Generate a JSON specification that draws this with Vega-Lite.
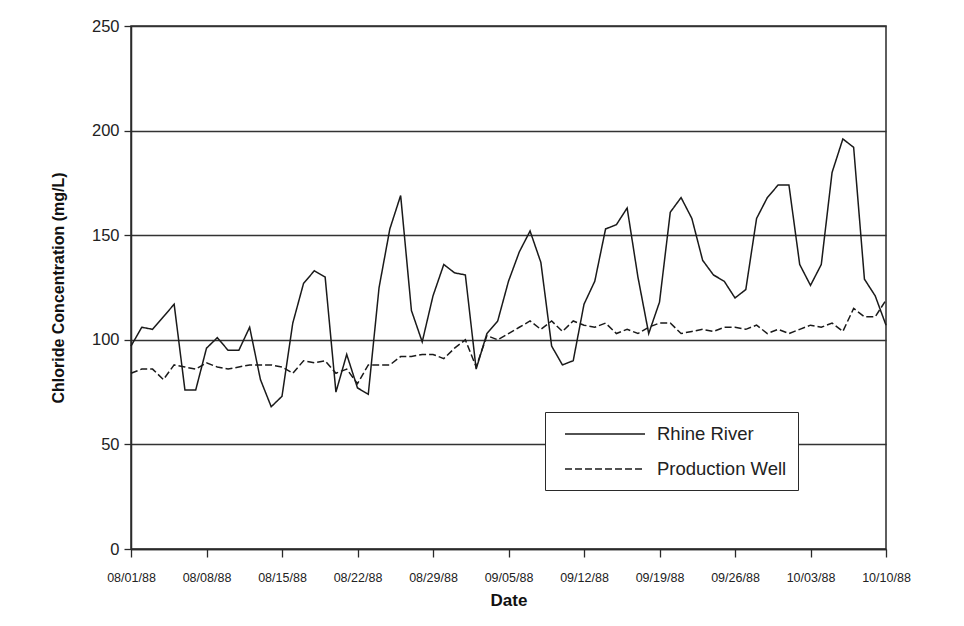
{
  "$schema": "https://vega.github.io/schema/vega-lite/v6.json",
  "width": 755,
  "height": 523,
  "autosize": "none",
  "padding": {"left": 131, "top": 26, "right": 78, "bottom": 77},
  "background": "white",
  "config": {
    "font": "Liberation Sans",
    "view": {"stroke": "#2a2a2a", "strokeWidth": 1.5},
    "axis": {"labelColor": "#222", "titleColor": "#111", "domainColor": "#2a2a2a", "tickColor": "#2a2a2a", "domainWidth": 1.5, "tickWidth": 1.3}
  },
  "data": {"values": [
    {"date":"1988-08-01","series":"Rhine River","value":97},{"date":"1988-08-02","series":"Rhine River","value":106},{"date":"1988-08-03","series":"Rhine River","value":105},{"date":"1988-08-04","series":"Rhine River","value":111},{"date":"1988-08-05","series":"Rhine River","value":117},{"date":"1988-08-06","series":"Rhine River","value":76},{"date":"1988-08-07","series":"Rhine River","value":76},{"date":"1988-08-08","series":"Rhine River","value":96},{"date":"1988-08-09","series":"Rhine River","value":101},{"date":"1988-08-10","series":"Rhine River","value":95},{"date":"1988-08-11","series":"Rhine River","value":95},{"date":"1988-08-12","series":"Rhine River","value":106},{"date":"1988-08-13","series":"Rhine River","value":81},{"date":"1988-08-14","series":"Rhine River","value":68},{"date":"1988-08-15","series":"Rhine River","value":73},{"date":"1988-08-16","series":"Rhine River","value":108},{"date":"1988-08-17","series":"Rhine River","value":127},{"date":"1988-08-18","series":"Rhine River","value":133},{"date":"1988-08-19","series":"Rhine River","value":130},{"date":"1988-08-20","series":"Rhine River","value":75},{"date":"1988-08-21","series":"Rhine River","value":93},{"date":"1988-08-22","series":"Rhine River","value":77},{"date":"1988-08-23","series":"Rhine River","value":74},{"date":"1988-08-24","series":"Rhine River","value":125},{"date":"1988-08-25","series":"Rhine River","value":153},{"date":"1988-08-26","series":"Rhine River","value":169},{"date":"1988-08-27","series":"Rhine River","value":114},{"date":"1988-08-28","series":"Rhine River","value":99},{"date":"1988-08-29","series":"Rhine River","value":121},{"date":"1988-08-30","series":"Rhine River","value":136},{"date":"1988-08-31","series":"Rhine River","value":132},{"date":"1988-09-01","series":"Rhine River","value":131},{"date":"1988-09-02","series":"Rhine River","value":86},{"date":"1988-09-03","series":"Rhine River","value":103},{"date":"1988-09-04","series":"Rhine River","value":109},{"date":"1988-09-05","series":"Rhine River","value":128},{"date":"1988-09-06","series":"Rhine River","value":142},{"date":"1988-09-07","series":"Rhine River","value":152},{"date":"1988-09-08","series":"Rhine River","value":137},{"date":"1988-09-09","series":"Rhine River","value":97},{"date":"1988-09-10","series":"Rhine River","value":88},{"date":"1988-09-11","series":"Rhine River","value":90},{"date":"1988-09-12","series":"Rhine River","value":117},{"date":"1988-09-13","series":"Rhine River","value":128},{"date":"1988-09-14","series":"Rhine River","value":153},{"date":"1988-09-15","series":"Rhine River","value":155},{"date":"1988-09-16","series":"Rhine River","value":163},{"date":"1988-09-17","series":"Rhine River","value":130},{"date":"1988-09-18","series":"Rhine River","value":103},{"date":"1988-09-19","series":"Rhine River","value":118},{"date":"1988-09-20","series":"Rhine River","value":161},{"date":"1988-09-21","series":"Rhine River","value":168},{"date":"1988-09-22","series":"Rhine River","value":158},{"date":"1988-09-23","series":"Rhine River","value":138},{"date":"1988-09-24","series":"Rhine River","value":131},{"date":"1988-09-25","series":"Rhine River","value":128},{"date":"1988-09-26","series":"Rhine River","value":120},{"date":"1988-09-27","series":"Rhine River","value":124},{"date":"1988-09-28","series":"Rhine River","value":158},{"date":"1988-09-29","series":"Rhine River","value":168},{"date":"1988-09-30","series":"Rhine River","value":174},{"date":"1988-10-01","series":"Rhine River","value":174},{"date":"1988-10-02","series":"Rhine River","value":136},{"date":"1988-10-03","series":"Rhine River","value":126},{"date":"1988-10-04","series":"Rhine River","value":136},{"date":"1988-10-05","series":"Rhine River","value":180},{"date":"1988-10-06","series":"Rhine River","value":196},{"date":"1988-10-07","series":"Rhine River","value":192},{"date":"1988-10-08","series":"Rhine River","value":129},{"date":"1988-10-09","series":"Rhine River","value":121},{"date":"1988-10-10","series":"Rhine River","value":107},
    {"date":"1988-08-01","series":"Production Well","value":84},{"date":"1988-08-02","series":"Production Well","value":86},{"date":"1988-08-03","series":"Production Well","value":86},{"date":"1988-08-04","series":"Production Well","value":81},{"date":"1988-08-05","series":"Production Well","value":88},{"date":"1988-08-06","series":"Production Well","value":87},{"date":"1988-08-07","series":"Production Well","value":86},{"date":"1988-08-08","series":"Production Well","value":89},{"date":"1988-08-09","series":"Production Well","value":87},{"date":"1988-08-10","series":"Production Well","value":86},{"date":"1988-08-11","series":"Production Well","value":87},{"date":"1988-08-12","series":"Production Well","value":88},{"date":"1988-08-13","series":"Production Well","value":88},{"date":"1988-08-14","series":"Production Well","value":88},{"date":"1988-08-15","series":"Production Well","value":87},{"date":"1988-08-16","series":"Production Well","value":84},{"date":"1988-08-17","series":"Production Well","value":90},{"date":"1988-08-18","series":"Production Well","value":89},{"date":"1988-08-19","series":"Production Well","value":90},{"date":"1988-08-20","series":"Production Well","value":84},{"date":"1988-08-21","series":"Production Well","value":86},{"date":"1988-08-22","series":"Production Well","value":79},{"date":"1988-08-23","series":"Production Well","value":88},{"date":"1988-08-24","series":"Production Well","value":88},{"date":"1988-08-25","series":"Production Well","value":88},{"date":"1988-08-26","series":"Production Well","value":92},{"date":"1988-08-27","series":"Production Well","value":92},{"date":"1988-08-28","series":"Production Well","value":93},{"date":"1988-08-29","series":"Production Well","value":93},{"date":"1988-08-30","series":"Production Well","value":91},{"date":"1988-08-31","series":"Production Well","value":96},{"date":"1988-09-01","series":"Production Well","value":100},{"date":"1988-09-02","series":"Production Well","value":87},{"date":"1988-09-03","series":"Production Well","value":102},{"date":"1988-09-04","series":"Production Well","value":100},{"date":"1988-09-05","series":"Production Well","value":103},{"date":"1988-09-06","series":"Production Well","value":106},{"date":"1988-09-07","series":"Production Well","value":109},{"date":"1988-09-08","series":"Production Well","value":105},{"date":"1988-09-09","series":"Production Well","value":109},{"date":"1988-09-10","series":"Production Well","value":104},{"date":"1988-09-11","series":"Production Well","value":109},{"date":"1988-09-12","series":"Production Well","value":107},{"date":"1988-09-13","series":"Production Well","value":106},{"date":"1988-09-14","series":"Production Well","value":108},{"date":"1988-09-15","series":"Production Well","value":103},{"date":"1988-09-16","series":"Production Well","value":105},{"date":"1988-09-17","series":"Production Well","value":103},{"date":"1988-09-18","series":"Production Well","value":106},{"date":"1988-09-19","series":"Production Well","value":108},{"date":"1988-09-20","series":"Production Well","value":108},{"date":"1988-09-21","series":"Production Well","value":103},{"date":"1988-09-22","series":"Production Well","value":104},{"date":"1988-09-23","series":"Production Well","value":105},{"date":"1988-09-24","series":"Production Well","value":104},{"date":"1988-09-25","series":"Production Well","value":106},{"date":"1988-09-26","series":"Production Well","value":106},{"date":"1988-09-27","series":"Production Well","value":105},{"date":"1988-09-28","series":"Production Well","value":107},{"date":"1988-09-29","series":"Production Well","value":103},{"date":"1988-09-30","series":"Production Well","value":105},{"date":"1988-10-01","series":"Production Well","value":103},{"date":"1988-10-02","series":"Production Well","value":105},{"date":"1988-10-03","series":"Production Well","value":107},{"date":"1988-10-04","series":"Production Well","value":106},{"date":"1988-10-05","series":"Production Well","value":108},{"date":"1988-10-06","series":"Production Well","value":104},{"date":"1988-10-07","series":"Production Well","value":115},{"date":"1988-10-08","series":"Production Well","value":111},{"date":"1988-10-09","series":"Production Well","value":111},{"date":"1988-10-10","series":"Production Well","value":119}
  ]},
  "mark": {"type": "line", "color": "#1a1a1a", "strokeWidth": 1.5},
  "encoding": {
    "x": {
      "field": "date", "type": "temporal",
      "scale": {"type": "utc", "domain": ["1988-08-01", "1988-10-10"]},
      "axis": {
        "title": "Date", "format": "%m/%d/%y",
        "values": ["1988-08-01", "1988-08-08", "1988-08-15", "1988-08-22", "1988-08-29", "1988-09-05", "1988-09-12", "1988-09-19", "1988-09-26", "1988-10-03", "1988-10-10"],
        "grid": false, "tickSize": 8, "labelPadding": 14, "labelFontSize": 12.5,
        "labelOverlap": false, "labelFlush": false,
        "titleFontSize": 17, "titleFontWeight": "bold", "titlePadding": 9
      }
    },
    "y": {
      "field": "value", "type": "quantitative",
      "scale": {"domain": [0, 250], "nice": false},
      "axis": {
        "title": "Chloride Concentration (mg/L)", "values": [0, 50, 100, 150, 200, 250],
        "grid": true, "gridColor": "#333", "gridWidth": 1.5, "gridOpacity": 1,
        "tickSize": 7, "labelPadding": 5, "labelFontSize": 16.5,
        "titleFontSize": 16, "titleFontWeight": "bold", "titlePadding": 25
      }
    },
    "strokeDash": {
      "field": "series", "type": "nominal",
      "scale": {"domain": ["Rhine River", "Production Well"], "range": [[1, 0], [7, 3]]},
      "legend": {
        "title": null, "orient": "none", "legendX": 414, "legendY": 386,
        "strokeColor": "#2a2a2a", "padding": 11, "fillColor": "white",
        "symbolType": "M-4,0H4", "symbolSize": 400, "symbolOffset": 38, "symbolStrokeWidth": 1.3, "symbolStrokeColor": "#1a1a1a",
        "labelFontSize": 18.5, "labelColor": "#222", "labelOffset": 41, "rowPadding": 14
      }
    }
  }
}
